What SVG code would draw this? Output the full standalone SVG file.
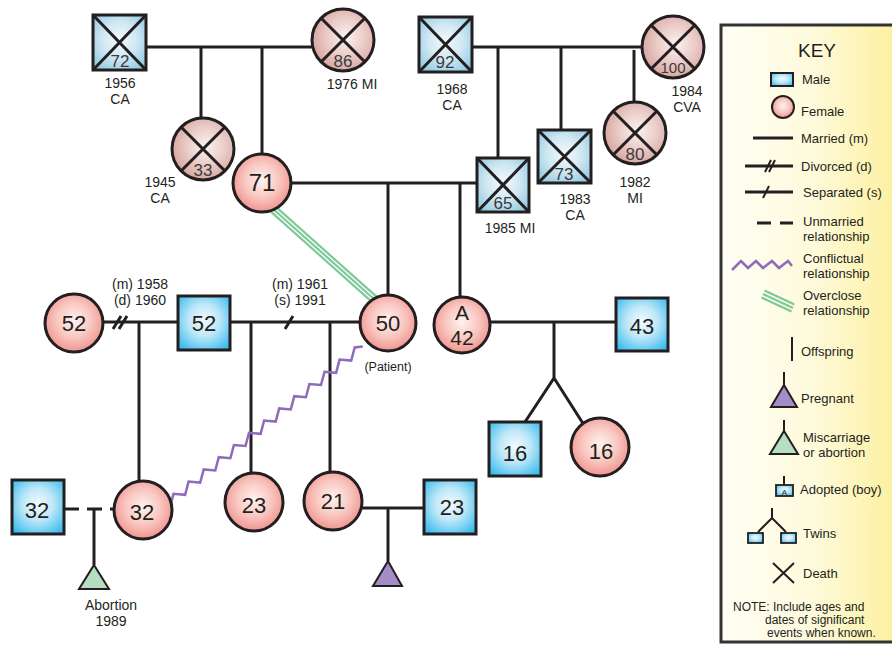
<svg xmlns="http://www.w3.org/2000/svg" width="892" height="646" viewBox="0 0 892 646">
<defs>
<radialGradient id="gM" cx="50%" cy="45%" r="65%"><stop offset="0" stop-color="#f2fbfe"/><stop offset="0.45" stop-color="#bfe8f8"/><stop offset="1" stop-color="#3dbdee"/></radialGradient>
<radialGradient id="gF" cx="50%" cy="45%" r="60%"><stop offset="0" stop-color="#fff2ef"/><stop offset="0.5" stop-color="#f9c7c1"/><stop offset="1" stop-color="#ef8a84"/></radialGradient>
<radialGradient id="gMD" cx="50%" cy="45%" r="65%"><stop offset="0" stop-color="#f3f9fc"/><stop offset="0.5" stop-color="#d0e8f3"/><stop offset="1" stop-color="#92c9e2"/></radialGradient>
<radialGradient id="gFD" cx="55%" cy="45%" r="60%"><stop offset="0" stop-color="#fbf1ef"/><stop offset="0.5" stop-color="#ebcdc9"/><stop offset="1" stop-color="#d4a09b"/></radialGradient>
<linearGradient id="gKey" x1="0" y1="0" x2="1" y2="0"><stop offset="0" stop-color="#fffef6"/><stop offset="0.5" stop-color="#fefadb"/><stop offset="1" stop-color="#fcef98"/></linearGradient>
</defs>
<style>
.ln{stroke:#231f20;stroke-width:3;fill:none}
.m{fill:url(#gM);stroke:#231f20;stroke-width:3}
.f{fill:url(#gF);stroke:#231f20;stroke-width:3}
.md{fill:url(#gMD);stroke:#231f20;stroke-width:3}
.fd{fill:url(#gFD);stroke:#231f20;stroke-width:3}
.x{stroke:#231f20;stroke-width:3;fill:none}
.t{font-family:"Liberation Sans",Arial,sans-serif;fill:#231f20;text-anchor:middle}
.n{font-size:22px}
.nd{font-size:17px;fill:#3a3a3a}
.lb{font-size:14px}
.k{font-family:"Liberation Sans",Arial,sans-serif;fill:#231f20;font-size:13px}
.grn{stroke:#7ec99a;stroke-width:2.2;fill:none}
.pur{stroke:#8e6bbb;stroke-width:2.5;fill:none;stroke-linejoin:miter}
</style>

<g id="connectors">
<line class="ln" x1="146" y1="47" x2="312" y2="47"/>
<line class="ln" x1="201" y1="47" x2="201" y2="118"/>
<line class="ln" x1="262" y1="47" x2="262" y2="154"/>
<line class="ln" x1="472" y1="47" x2="642" y2="47"/>
<line class="ln" x1="498" y1="47" x2="498" y2="158"/>
<line class="ln" x1="561" y1="47" x2="561" y2="130"/>
<line class="ln" x1="634" y1="50" x2="634" y2="102"/>
<line class="ln" x1="291" y1="183" x2="477" y2="183"/>
<line class="ln" x1="388" y1="183" x2="388" y2="295"/>
<line class="ln" x1="460" y1="183" x2="460" y2="297"/>
<line class="ln" x1="103" y1="322" x2="178" y2="322"/>
<line class="ln" x1="113" y1="329" x2="121" y2="316"/>
<line class="ln" x1="119" y1="329" x2="127" y2="316"/>
<line class="ln" x1="230" y1="322" x2="360" y2="322"/>
<line class="ln" x1="285" y1="329" x2="293" y2="316"/>
<line class="ln" x1="139" y1="322" x2="139" y2="482"/>
<line class="ln" x1="251" y1="322" x2="251" y2="473"/>
<line class="ln" x1="330" y1="322" x2="330" y2="472"/>
<line class="ln" x1="490" y1="322" x2="616" y2="322"/>
<path class="ln" d="M554,322 V378 L525,422 M554,378 L584,425"/>
<path class="ln" d="M64,509 H79 M87,509 H102 M110,509 H115"/>
<line class="ln" x1="94" y1="509" x2="94" y2="565"/>
<line class="ln" x1="362" y1="508" x2="424" y2="508"/>
<line class="ln" x1="388" y1="508" x2="388" y2="561"/>
<g id="overclose">
<line class="grn" x1="274.3" y1="205.4" x2="377.3" y2="297.4"/>
<line class="grn" x1="272" y1="208" x2="375" y2="300"/>
<line class="grn" x1="269.7" y1="210.6" x2="372.7" y2="302.6"/>
</g>
<path class="pur" d="M170,507 l3.5,-13.2 l11.6,1 l3.5,-13.2 l11.6,1 l3.5,-13.2 l11.6,1 l3.5,-13.2 l11.6,1 l3.5,-13.2 l11.6,1 l3.5,-13.2 l11.6,1 l3.5,-13.2 l11.6,1 l3.5,-13.2 l11.6,1 l3.5,-13.2 l11.6,1 l3.5,-13.2 l11.6,1 l3.5,-13.2 l11.6,1 l3.5,-13.2 l11.6,1 l3.5,-13.2 l8,-1"/>
</g>

<g id="p72"><rect class="md" x="93" y="15" width="53" height="55"/><path class="x" d="M93,15 L146,70 M146,15 L93,70"/><text class="t nd" x="120" y="67">72</text><text class="t lb" x="120" y="88">1956</text><text class="t lb" x="120" y="104">CA</text></g>
<g id="p86"><circle class="fd" cx="343" cy="40" r="31"/><path class="x" d="M321,18 L365,62 M365,18 L321,62"/><text class="t nd" x="343" y="67">86</text><text class="t lb" x="352" y="89">1976 MI</text></g>
<g id="p33"><circle class="fd" cx="203" cy="149" r="31"/><path class="x" d="M181,127 L225,171 M225,127 L181,171"/><text class="t nd" x="203" y="176">33</text><text class="t lb" x="160" y="187">1945</text><text class="t lb" x="160" y="203">CA</text></g>
<g id="p71"><circle class="f" cx="262" cy="183" r="29"/><text class="t n" x="262" y="191" style="font-size:24px">71</text></g>

<g id="p92"><rect class="md" x="419" y="17" width="53" height="55"/><path class="x" d="M419,17 L472,72 M472,17 L419,72"/><text class="t nd" x="445" y="68">92</text><text class="t lb" x="452" y="94">1968</text><text class="t lb" x="452" y="110">CA</text></g>
<g id="p100"><circle class="fd" cx="673" cy="47" r="31"/><path class="x" d="M651,25 L695,69 M695,25 L651,69"/><text class="t nd" x="673" y="73" style="font-size:15px">100</text><text class="t lb" x="687" y="96">1984</text><text class="t lb" x="687" y="112">CVA</text></g>
<g id="p65"><rect class="md" x="477" y="158" width="52" height="54"/><path class="x" d="M477,158 L529,212 M529,158 L477,212"/><text class="t nd" x="503" y="209">65</text><text class="t lb" x="510" y="233">1985 MI</text></g>
<g id="p73"><rect class="md" x="538" y="130" width="53" height="53"/><path class="x" d="M538,130 L591,183 M591,130 L538,183"/><text class="t nd" x="564" y="180">73</text><text class="t lb" x="575" y="204">1983</text><text class="t lb" x="575" y="220">CA</text></g>
<g id="p80"><circle class="fd" cx="635" cy="133" r="31"/><path class="x" d="M613,111 L657,155 M657,111 L613,155"/><text class="t nd" x="635" y="160">80</text><text class="t lb" x="635" y="187">1982</text><text class="t lb" x="635" y="203">MI</text></g>

<g id="p52f"><circle class="f" cx="74" cy="323" r="29"/><text class="t n" x="74" y="331">52</text></g>
<g id="marr1"><text class="t lb" x="140" y="289">(m) 1958</text><text class="t lb" x="140" y="305">(d) 1960</text></g>
<g id="p52m"><rect class="m" x="178" y="296" width="52" height="54"/><text class="t n" x="204" y="331">52</text></g>
<g id="marr2"><text class="t lb" x="300" y="289">(m) 1961</text><text class="t lb" x="300" y="305">(s) 1991</text></g>
<g id="p50"><circle class="f" cx="388" cy="323" r="28"/><text class="t n" x="388" y="331">50</text><text class="t" x="388" y="371" style="font-size:12.5px">(Patient)</text></g>
<g id="p42"><circle class="f" cx="462" cy="325" r="28"/><text class="t" x="462" y="320" style="font-size:21px">A</text><text class="t" x="462" y="345" style="font-size:21px">42</text></g>
<g id="p43"><rect class="m" x="616" y="298" width="52" height="53"/><text class="t n" x="642" y="334">43</text></g>
<g id="p16m"><rect class="m" x="489" y="422" width="52" height="54"/><text class="t n" x="515" y="461">16</text></g>
<g id="p16f"><circle class="f" cx="600" cy="447" r="29"/><text class="t n" x="601" y="459">16</text></g>

<g id="p32m"><rect class="m" x="12" y="480" width="52" height="54"/><text class="t n" x="37" y="518">32</text></g>
<g id="abortion"><path d="M94,565 L109,589 L79,589 Z" fill="#b6dec1" stroke="#231f20" stroke-width="2"/><text class="t lb" x="111" y="610">Abortion</text><text class="t lb" x="111" y="626">1989</text></g>
<g id="p32f"><circle class="f" cx="143" cy="510" r="29"/><text class="t n" x="142" y="520">32</text></g>
<g id="p23f"><circle class="f" cx="254" cy="502" r="29"/><text class="t n" x="254" y="513">23</text></g>
<g id="p21"><circle class="f" cx="333" cy="501" r="29"/><text class="t n" x="333" y="509">21</text></g>
<g id="p23m"><rect class="m" x="424" y="480" width="52" height="54"/><text class="t n" x="452" y="515">23</text></g>
<g id="pregnant"><path d="M388,561 L402,586 L373,586 Z" fill="#a68cc6" stroke="#231f20" stroke-width="2"/></g>

<g id="key">
<rect x="721" y="25" width="185" height="617" fill="url(#gKey)" stroke="#333" stroke-width="3"/>
<text class="k" x="817" y="57" text-anchor="middle" style="font-size:19px">KEY</text>
<rect x="771" y="73" width="22" height="13" fill="url(#gM)" stroke="#231f20" stroke-width="2"/>
<text class="k" x="802" y="84">Male</text>
<circle cx="783" cy="107" r="11" fill="url(#gF)" stroke="#231f20" stroke-width="2"/>
<text class="k" x="801" y="116">Female</text>
<line x1="753" y1="138" x2="793" y2="138" stroke="#231f20" stroke-width="3"/>
<text class="k" x="801" y="143">Married (m)</text>
<line x1="745" y1="166" x2="793" y2="166" stroke="#231f20" stroke-width="3"/>
<path d="M765,172 L771,160 M769,172 L775,160" stroke="#231f20" stroke-width="2"/>
<text class="k" x="801" y="171">Divorced (d)</text>
<line x1="745" y1="192" x2="793" y2="192" stroke="#231f20" stroke-width="3"/>
<path d="M763,198 L769,186" stroke="#231f20" stroke-width="2"/>
<text class="k" x="803" y="197">Separated (s)</text>
<path d="M757,223 H771 M780,223 H793" stroke="#231f20" stroke-width="3"/>
<text class="k" x="803" y="226">Unmarried</text>
<text class="k" x="803" y="241">relationship</text>
<path d="M732,270 L741,261 L748,268 L756,261 L763,268 L772,261 L779,268 L788,261 L792,266" stroke="#8e6bbb" stroke-width="2.5" fill="none"/>
<text class="k" x="803" y="263">Conflictual</text>
<text class="k" x="803" y="278">relationship</text>
<path d="M764.5,290.5 L794.5,304.5 M763,294 L793,308 M761.5,297.5 L791.5,311.5" stroke="#7ec99a" stroke-width="2.2" fill="none"/>
<text class="k" x="803" y="300">Overclose</text>
<text class="k" x="803" y="315">relationship</text>
<line x1="792" y1="337" x2="792" y2="361" stroke="#231f20" stroke-width="2"/>
<text class="k" x="801" y="356">Offspring</text>
<line x1="784" y1="372" x2="784" y2="385" stroke="#231f20" stroke-width="2"/>
<path d="M784,385 L797,407 L771,407 Z" fill="#a68cc6" stroke="#231f20" stroke-width="2"/>
<text class="k" x="801" y="403">Pregnant</text>
<line x1="784" y1="420" x2="784" y2="431" stroke="#231f20" stroke-width="2"/>
<path d="M784,431 L798,454 L770,454 Z" fill="#b6dec1" stroke="#231f20" stroke-width="2"/>
<text class="k" x="803" y="442">Miscarriage</text>
<text class="k" x="803" y="457">or abortion</text>
<line x1="784" y1="476" x2="784" y2="485" stroke="#231f20" stroke-width="2"/>
<rect x="776" y="485" width="17" height="11" fill="url(#gM)" stroke="#231f20" stroke-width="1.8"/>
<text class="k" x="784.5" y="494.5" text-anchor="middle" style="font-size:8px">A</text>
<text class="k" x="800" y="494">Adopted (boy)</text>
<path d="M772,508 V518 L758,532 M772,518 L786,532" stroke="#231f20" stroke-width="2" fill="none"/>
<rect x="748" y="533" width="15" height="10" fill="url(#gM)" stroke="#231f20" stroke-width="1.8"/>
<rect x="781" y="533" width="15" height="10" fill="url(#gM)" stroke="#231f20" stroke-width="1.8"/>
<text class="k" x="803" y="538">Twins</text>
<path d="M773,563 L794,583 M794,563 L773,583" stroke="#231f20" stroke-width="2"/>
<text class="k" x="803" y="578">Death</text>
<text class="k" x="733" y="611" style="font-size:12px">NOTE: Include ages and</text>
<text class="k" x="765" y="624" style="font-size:12px">dates of significant</text>
<text class="k" x="767" y="637" style="font-size:12px">events when known.</text>
</g>
</svg>
